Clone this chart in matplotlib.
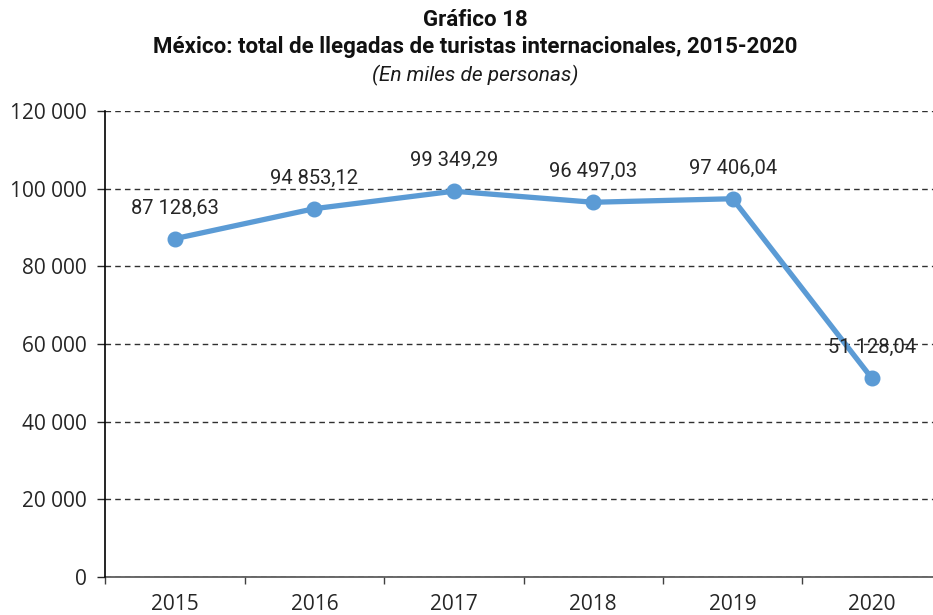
import matplotlib
matplotlib.use("Agg")
import matplotlib.pyplot as plt
from matplotlib.ticker import FixedLocator, FuncFormatter

years = ["2015", "2016", "2017", "2018", "2019", "2020"]
values = [87128.63, 94853.12, 99349.29, 96497.03, 97406.04, 51128.04]
yticks = [0, 20000, 40000, 60000, 80000, 100000, 120000]

W, H = 933, 615
fig = plt.figure(figsize=(W / 100, H / 100), dpi=100)
left_px, right_px, top_px, bottom_px = 105.3, 941.7, 111, 577
ax = fig.add_axes([left_px / W, (H - bottom_px) / H,
                   (right_px - left_px) / W, (bottom_px - top_px) / H])

x = list(range(len(years)))
color = "#5B9BD5"
ax.plot(x, values, color=color, lw=3.8, marker="o", ms=10.5, zorder=3,
        solid_capstyle="round")

def fmt_label(v):
    s = f"{v:,.2f}"
    intpart, dec = s.split(".")
    return intpart.replace(",", " ") + "," + dec

for xi, v in zip(x, values):
    ax.annotate(fmt_label(v), (xi, v), xytext=(0, 22), textcoords="offset points",
                ha="center", va="center", fontsize=14.5, color="#262626",
                family=["Roboto", "DejaVu Sans"], fontweight="normal", zorder=4)

ax.set_xlim(-0.5, len(years) - 0.5)
ax.set_ylim(0, 120000)
ax.yaxis.set_major_locator(FixedLocator(yticks))
ax.yaxis.set_major_formatter(FuncFormatter(lambda v, p: f"{int(v):,}".replace(",", " ")))
ax.set_xticks(x)
ax.set_xticklabels(years)
ax.set_xticks([i + 0.5 for i in x[:-1]] + [-0.5], minor=True)
ax.tick_params(axis="x", which="major", length=0, pad=12, labelsize=15, colors="#262626")
ax.tick_params(axis="x", which="minor", length=5, width=1, color="#404040", direction="out")
ax.tick_params(axis="y", which="major", length=6, width=1, pad=7, labelsize=15,
               colors="#262626", direction="out")
for lab in ax.get_xticklabels() + ax.get_yticklabels():
    lab.set_family(["Open Sans", "DejaVu Sans"])

ax.grid(axis="y", linestyle=(0, (4, 3)), color="#303030", lw=1)
ax.set_axisbelow(True)
for s in ["top", "right"]:
    ax.spines[s].set_visible(False)
ax.spines["left"].set_color("#000000")
ax.spines["left"].set_linewidth(1.2)
ax.spines["bottom"].set_color("#505050")
ax.spines["bottom"].set_linewidth(1.2)
ax.spines["left"].set_zorder(5)

cx = 475 / W
fig.text(cx, 1 - 20 / H, "Gráfico 18", ha="center", va="center", fontsize=16,
         fontweight="bold", family=["Roboto", "DejaVu Sans"], color="#111111")
fig.text(cx, 1 - 47 / H, "México: total de llegadas de turistas internacionales, 2015-2020",
         ha="center", va="center", fontsize=16, fontweight="bold",
         family=["Roboto", "DejaVu Sans"], color="#111111")
fig.text(cx, 1 - 75 / H, "(En miles de personas)", ha="center", va="center",
         fontsize=15, style="italic", family=["Roboto", "DejaVu Sans"], color="#1a1a1a",
         fontweight="normal")

fig.savefig("out.png", dpi=100)
